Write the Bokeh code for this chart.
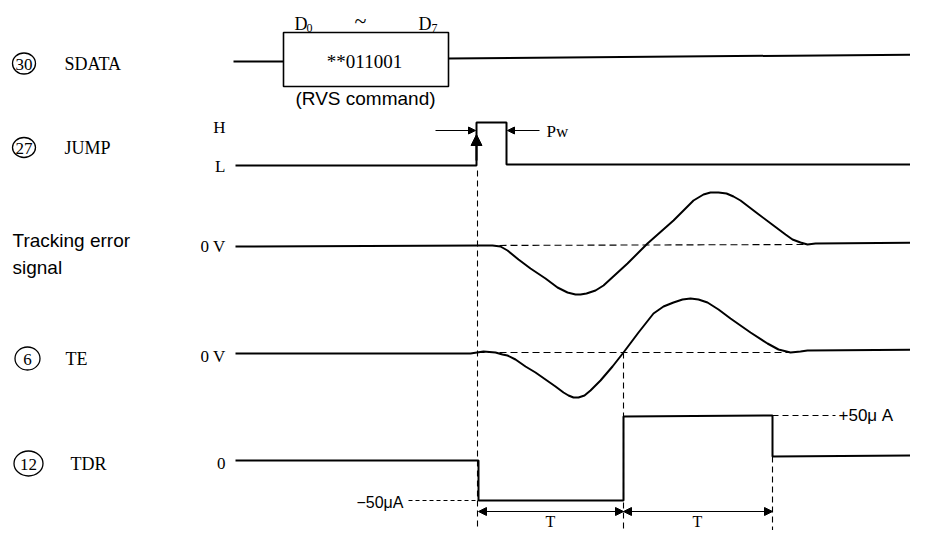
from bokeh.plotting import figure
from bokeh.models import Range1d, Arrow, NormalHead
from bokeh.core.properties import value
from bokeh.embed import file_html
from bokeh.resources import INLINE

# ---------------- data (diagram coordinates) ----------------
# row labels
pin_numbers = ["30", "27", "6", "12"]
pin_x = [23.5, 23.5, 27, 28]
pin_y = [63, 147, 358, 463]
pin_w = [23, 23, 25, 29]
pin_h = [21, 20, 23, 25]
signal_names = ["SDATA", "JUMP", "TE", "TDR"]
signal_name_x = [64, 64, 65, 70]
signal_name_y = [63, 147, 358, 463]

# SDATA (serial data with RVS command word)
sdata_in_x = [233, 283]
sdata_in_y = [61, 61]
sdata_box_left, sdata_box_right = 283, 448
sdata_box_top, sdata_box_bottom = 32, 86
sdata_out_x = [448, 926]
sdata_out_y = [58, 54]
command_word = "**011001"
command_name = "(RVS command)"

# JUMP pulse
jump_x = [235, 476, 476, 506, 506, 926]
jump_y = [165, 165, 122, 122, 164, 164]

# tracking error signal
track_x = [235, 480, 492, 500, 507, 518, 530, 545, 557, 567, 575, 580, 586, 595,
           603, 615, 627, 647, 673, 693, 703, 710, 718, 726, 733, 740, 757, 773,
           785, 792, 800, 807, 815, 926]
track_y = [246, 245, 245, 246, 250, 259, 268, 278, 287, 292, 294, 294, 293, 290,
           285, 274, 263, 243, 220, 200, 194, 192, 192, 193, 196, 200, 213, 225,
           234, 239, 242, 244, 243, 242]
track_zero_x = [477, 807]
track_zero_y = [245, 244]

# TE
te_x = [235, 470, 483, 495, 502, 507, 515, 525, 535, 545, 555, 563, 568, 573, 578,
        584, 590, 600, 612, 623, 638, 653, 663, 673, 682, 690, 698, 707, 718, 730,
        750, 767, 778, 790, 800, 807, 926]
te_y = [353, 353, 351, 352, 354, 355, 359, 366, 372, 379, 386, 392, 395, 397, 397,
        395, 390, 380, 366, 352, 332, 313, 306, 302, 299, 298, 299, 302, 309, 318,
        332, 343, 349, 352, 351, 350, 349]
te_zero_x = [477, 790]
te_zero_y = [352, 352]

# TDR drive current
tdr_x = [235, 478, 478, 623, 623, 772, 772, 926]
tdr_y = [460, 460, 500, 500, 416, 415, 456, 455]
tdr_minus_ref_x = [408, 478]
tdr_minus_ref_y = [500, 500]
tdr_plus_ref_x = [772, 835]
tdr_plus_ref_y = [415, 415]

# timing guides
guide_x = [477, 623, 772]
guide_top = [170, 352, 456]
guide_bottom = [546, 546, 546]
period_start = [478, 623]
period_end = [623, 772]
period_y = 511

# ---------------- figure ----------------
p = figure(width=910, height=530, x_range=Range1d(0, 910), y_range=Range1d(530, 0),
           output_backend="svg", toolbar_location=None, min_border=0,
           x_axis_location=None, y_axis_location=None)
p.grid.visible = False
p.outline_line_color = None
p.background_fill_color = "white"
p.border_fill_color = "white"

K = "black"
SERIF = value("Liberation Serif")
SANS = value("Liberation Sans")

# guides (dashed)
for gx, gt, gb in zip(guide_x, guide_top, guide_bottom):
    p.line([gx, gx], [gt, gb], line_color=K, line_width=1.1, line_dash="6 4")
p.line(track_zero_x, track_zero_y, line_color=K, line_width=1.1, line_dash="7 4")
p.line(te_zero_x, te_zero_y, line_color=K, line_width=1.1, line_dash="7 4")
p.line(tdr_minus_ref_x, tdr_minus_ref_y, line_color=K, line_width=1.0, line_dash="4 3")
p.line(tdr_plus_ref_x, tdr_plus_ref_y, line_color=K, line_width=1.0, line_dash="6 4")

# signals
p.line(sdata_in_x, sdata_in_y, line_color=K, line_width=2)
p.line(sdata_out_x, sdata_out_y, line_color=K, line_width=2)
p.quad(left=[sdata_box_left], right=[sdata_box_right], top=[sdata_box_top],
       bottom=[sdata_box_bottom], fill_color=None, line_color=K, line_width=1.6)
p.line(jump_x, jump_y, line_color=K, line_width=2)
p.line(track_x, track_y, line_color=K, line_width=2, line_join="round")
p.line(te_x, te_y, line_color=K, line_width=2, line_join="round")
p.line(tdr_x, tdr_y, line_color=K, line_width=2)

# arrows
p.add_layout(Arrow(end=NormalHead(size=11, fill_color=K, line_color=K),
                   x_start=476, y_start=160, x_end=476, y_end=134,
                   line_color=K, line_width=2))
p.add_layout(Arrow(end=NormalHead(size=7, fill_color=K, line_color=K),
                   x_start=435, y_start=130, x_end=475, y_end=130,
                   line_color=K, line_width=1))
p.add_layout(Arrow(end=NormalHead(size=7, fill_color=K, line_color=K),
                   x_start=539, y_start=130, x_end=507, y_end=130,
                   line_color=K, line_width=1))
for a, b in zip(period_start, period_end):
    p.add_layout(Arrow(start=NormalHead(size=8, fill_color=K, line_color=K),
                       end=NormalHead(size=8, fill_color=K, line_color=K),
                       x_start=a, y_start=period_y, x_end=b, y_end=period_y,
                       line_color=K, line_width=1.2))

# pin circles and names
p.ellipse(x=pin_x, y=pin_y, width=pin_w, height=pin_h, fill_color=None,
          line_color=K, line_width=1.3)
p.text(x=pin_x, y=[v + 1 for v in pin_y], text=pin_numbers, text_font=SERIF,
       text_font_size="17px", text_align="center", text_baseline="middle", text_color=K)
p.text(x=signal_name_x, y=signal_name_y, text=signal_names, text_font=SERIF,
       text_font_size="18px", text_align="left", text_baseline="middle", text_color=K)

p.text(x=[12, 12], y=[240, 267], text=["Tracking error", "signal"], text_font=SANS,
       text_font_size="19px", text_align="left", text_baseline="middle", text_color=K)

# level labels
p.text(x=[225, 225, 225, 225, 225], y=[127, 166, 246, 356, 463],
       text=["H", "L", "0 V", "0 V", "0"], text_font=SERIF, text_font_size="17px",
       text_align="right", text_baseline="middle", text_color=K)

# SDATA annotations
p.text(x=[294, 418], y=[23, 23], text=["D", "D"], text_font=SERIF,
       text_font_size="18px", text_align="left", text_baseline="middle", text_color=K)
p.text(x=[306, 431], y=[27, 27], text=["0", "7"], text_font=SERIF,
       text_font_size="12px", text_align="left", text_baseline="middle", text_color=K)
p.text(x=[360], y=[20], text=["~"], text_font=SERIF, text_font_size="22px",
       text_align="center", text_baseline="middle", text_color=K)
p.text(x=[364], y=[61], text=[command_word], text_font=SERIF, text_font_size="19px",
       text_align="center", text_baseline="middle", text_color=K)
p.text(x=[365], y=[98], text=[command_name], text_font=SANS, text_font_size="19px",
       text_align="center", text_baseline="middle", text_color=K)

# Pw, currents, periods
p.text(x=[546], y=[131], text=["Pw"], text_font=SERIF, text_font_size="17px",
       text_align="left", text_baseline="middle", text_color=K)
p.text(x=[838], y=[415], text=["+50\u03bc A"], text_font=SANS, text_font_size="17px",
       text_align="left", text_baseline="middle", text_color=K)
p.text(x=[403], y=[502], text=["\u221250\u03bcA"], text_font=SANS, text_font_size="16px",
       text_align="right", text_baseline="middle", text_color=K)
p.text(x=[550, 697], y=[529, 529], text=["T", "T"], text_font=SERIF,
       text_font_size="16px", text_align="center", text_baseline="bottom", text_color=K)

open("out.html", "w").write(file_html(p, INLINE))
